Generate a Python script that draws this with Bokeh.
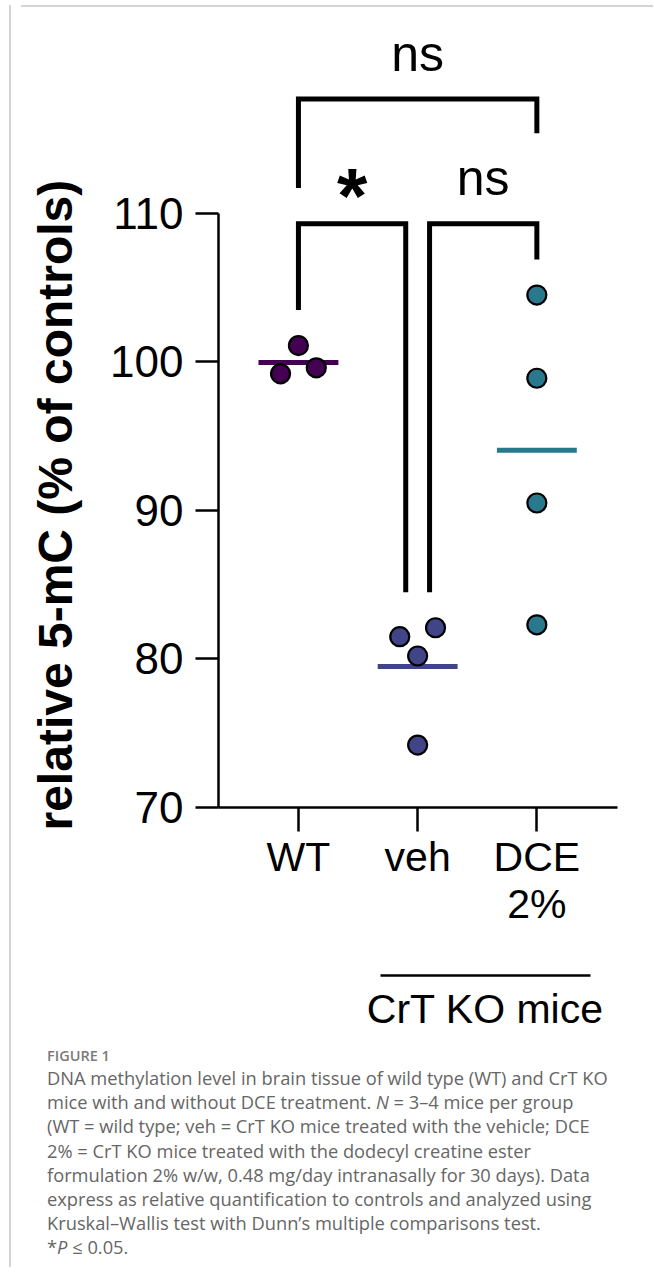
import numpy as np
from bokeh.plotting import figure
from bokeh.models import Range1d, LinearAxis, FixedTicker, ColumnDataSource, Div, Spacer, Title
from bokeh.layouts import column, row
from bokeh.core.properties import value
from bokeh.embed import file_html
from bokeh.resources import INLINE

# ---------------- data ----------------
categories = ["WT", "veh", "DCE 2%"]
tick_labels = ["WT", "veh", "DCE\n2%"]
group_colors = ["#440154", "#414487", "#2a788e"]
wt_values = [101.1, 99.2, 99.6]
veh_values = [81.5, 82.1, 80.2, 74.2]
dce_values = [104.5, 98.9, 90.5, 82.3]
wt_jitter = [0.0, -0.15, 0.15]
veh_jitter = [-0.15, 0.15, 0.0, 0.0]
dce_jitter = [0.0, 0.0, 0.0, 0.0]
y_ticks = [70, 80, 90, 100, 110]
comparisons = [("WT", "veh", "*"), ("veh", "DCE 2%", "ns"), ("WT", "DCE 2%", "ns")]
ko_groups = ["veh", "DCE 2%"]
y_label = "relative 5-mC (% of controls)"
group_label = "CrT KO mice"
caption_title = "FIGURE 1"
caption_lines = [
    "DNA methylation level in brain tissue of wild type (WT) and CrT KO",
    "mice with and without DCE treatment. <i>N</i> = 3\u20134 mice per group",
    "(WT = wild type; veh = CrT KO mice treated with the vehicle; DCE",
    "2% = CrT KO mice treated with the dodecyl creatine ester",
    "formulation 2% w/w, 0.48 mg/day intranasally for 30 days). Data",
    "express as relative quantification to controls and analyzed using",
    "Kruskal\u2013Wallis test with Dunn\u2019s multiple comparisons test.",
    "*<i>P</i> \u2264 0.05.",
]

values = [wt_values, veh_values, dce_values]
jitters = [wt_jitter, veh_jitter, dce_jitter]

FONT = "Liberation Sans"

p = figure(width=632, height=1025,
           x_range=Range1d(-0.6706, 2.6765), y_range=Range1d(70, 122.85),
           output_backend="svg", toolbar_location=None,
           x_axis_location=None, y_axis_location=None,
           min_border_left=202, min_border_right=31, min_border_top=10, min_border_bottom=230)
p.outline_line_color = None
p.grid.visible = False
p.background_fill_color = "white"
p.border_fill_color = "white"

# y-axis title as a left-side title, anchored near the bottom of the bounded axis
p.title = Title(text=y_label, align="left", offset=-23, standoff=0,
                text_font=FONT, text_font_style="bold", text_font_size="48px",
                text_color="black")
p.title_location = "left"

def style_axis(ax, size):
    ax.axis_line_width = 2.5
    ax.axis_line_color = "black"
    ax.major_tick_line_width = 2.5
    ax.major_tick_line_color = "black"
    ax.major_tick_in = 0
    ax.minor_tick_line_color = None
    ax.major_label_text_font = FONT
    ax.major_label_text_font_size = size
    ax.major_label_text_color = "black"

def spacer(ax, length, tick):
    ax.ticker = FixedTicker(ticks=[tick])
    ax.axis_line_color = None
    ax.major_tick_line_color = "white"
    ax.major_tick_line_width = 1
    ax.minor_tick_line_color = None
    ax.major_tick_in = 0
    ax.major_tick_out = length
    ax.major_label_text_color = None

yaxis = LinearAxis(bounds=(y_ticks[0], y_ticks[-1]), ticker=FixedTicker(ticks=y_ticks))
style_axis(yaxis, "44px")
yaxis.major_tick_out = 23
yaxis.major_label_standoff = 12
p.add_layout(yaxis, "left")

# invisible gap between tick labels and the y title
left_gap = LinearAxis()
spacer(left_gap, 26, 122.5)
p.add_layout(left_gap, "left")

xaxis = LinearAxis(ticker=FixedTicker(ticks=list(range(len(categories)))),
                   major_label_overrides={i: lab for i, lab in enumerate(tick_labels)})
style_axis(xaxis, "41px")
xaxis.major_tick_out = 24
xaxis.major_label_standoff = 2
xaxis.major_label_text_line_height = 1.03
p.add_layout(xaxis, "below")

ko_idx = [categories.index(g) for g in ko_groups]
ko_lo, ko_hi = ko_idx[0] - 0.313, ko_idx[-1] + 0.448
ko_mid = round((ko_lo + ko_hi) / 2, 4)

# invisible gap between the category labels and the group bar
bottom_gap = LinearAxis()
spacer(bottom_gap, 46, ko_mid)
p.add_layout(bottom_gap, "below")

grp_axis = LinearAxis(bounds=(ko_lo, ko_hi), ticker=FixedTicker(ticks=[ko_mid]),
                      major_label_overrides={ko_mid: group_label})
style_axis(grp_axis, "41px")
grp_axis.major_tick_out = 0
grp_axis.major_tick_line_color = None
grp_axis.major_label_standoff = 10
p.add_layout(grp_axis, "below")

# points and means
for i, (vals, jit, col) in enumerate(zip(values, jitters, group_colors)):
    src = ColumnDataSource(dict(x=[i + j for j in jit], y=vals))
    m = float(np.mean(vals))
    p.segment(x0=[i - 0.335], y0=[m], x1=[i + 0.335], y1=[m], line_color=col, line_width=5)
    p.scatter("x", "y", source=src, size=19, fill_color=col, line_color="black", line_width=2.2)

# significance brackets
maxes = [max(v) for v in values]
levels = [109.3, 109.3, 117.7]
xs, ys, lab_x, lab_y, lab_t = [], [], [], [], []
star_x, star_y = [], []
for k, (a, b, lab) in enumerate(comparisons):
    ia, ib = categories.index(a), categories.index(b)
    lvl = levels[k]
    if k < 2:
        xa = ia + (0.1 if k == 1 else 0.0)
        xb = ib - (0.1 if k == 0 else 0.0)
        ta, tb = maxes[ia] + 2.4, maxes[ib] + 2.4
    else:
        xa, xb = ia, ib
        ta, tb = levels[0] + 2.4, levels[0] + 6.1
    xs.append([xa, xa, xb, xb])
    ys.append([ta, lvl, lvl, tb])
    if lab == "*":
        star_x.append((xa + xb) / 2)
        star_y.append(lvl + 1.9)
    else:
        lab_x.append((xa + xb) / 2)
        lab_y.append(lvl + 3.05)
        lab_t.append(lab)
p.multi_line(xs, ys, line_color="black", line_width=5, line_join="miter", line_cap="butt")
p.text(x=lab_x, y=lab_y, text=lab_t, text_align="center", text_baseline="alphabetic",
       text_font=value(FONT), text_font_size="50px", text_color="black")
p.text(x=star_x, y=star_y, text=["*"] * len(star_x), text_align="center", text_baseline="alphabetic",
       text_font=value(FONT), text_font_style="bold", text_font_size="78px", text_color="black")

# caption
html = ("<div style=\"font-family:'Open Sans',sans-serif;color:#666666;padding-left:26px;\">"
        "<div style=\"margin-top:4px;line-height:20px;font-size:14.5px;font-weight:600;color:#7a7a7a;\">"
        + caption_title + "</div>"
        "<div style=\"font-size:18.3px;line-height:24.2px;white-space:nowrap;\">"
        + "<br>".join(caption_lines) + "</div></div>")
caption = Div(text=html, width=632, height=235)

top_line = Div(text="", width=632, height=2, styles={"background-color": "#d4d4d4"})
left_line = Div(text="", width=2, height=1262, styles={"background-color": "#d4d4d4"})
layout = row(Spacer(width=4, height=1262), left_line, column(top_line, p, caption))

open("out.html", "w").write(file_html(layout, INLINE))
